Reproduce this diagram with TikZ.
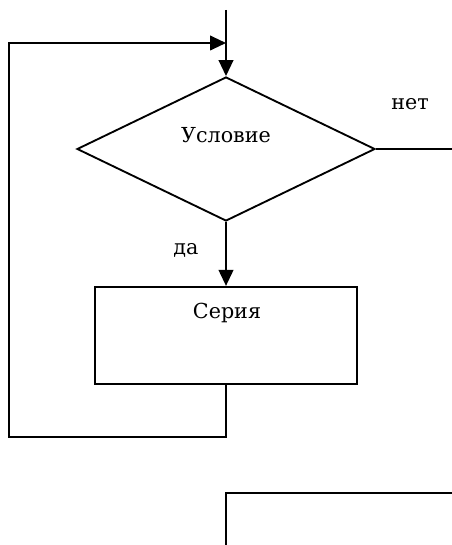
\documentclass[tikz,border=0pt]{standalone}
\usepackage{fontspec}
\setmainfont{DejaVu Serif}
\usetikzlibrary{arrows.meta,shapes.geometric}
\tikzset{
  fl/.style={draw=black, line width=1.5pt},
  arr/.style={fl, -{Triangle[length=12pt,width=11pt]}},
  cond/.style={diamond, draw=black, line width=1.4pt, inner sep=0pt,
    minimum width=223.5pt, minimum height=108pt},
  proc/.style={rectangle, draw=black, line width=1.4pt, inner sep=0pt,
    minimum width=197pt, minimum height=73pt},
  lbl/.style={font=\fontsize{15.5}{18}\selectfont, inner sep=0pt}
}
\begin{document}
\begin{tikzpicture}[x=0.75pt, y=-0.75pt]
  \useasboundingbox (0,0) rectangle (452,545);
  % loop head
  \node[cond] (test) at (226,149) {};
  \node[lbl] (testtxt) at (226,135) {Условие};
  \node[proc] (body) at (226,335.5) {};
  \node[lbl] (bodytxt) at (227,313) {Серия};
  \node[lbl] (yes) at (186,250) {да};
  \node[lbl] (no) at (410,104) {нет};
  \coordinate (in) at (226,10);
  \coordinate (join) at (226,43);
  \coordinate (back) at (9,437);
  \coordinate (exit) at (452,149);
  % next block
  \coordinate (nextR) at (452,493);
  \coordinate (nextB) at (226,545);

  \draw[arr] (in) -- (test.north);
  \draw[arr] (test.south) -- (body.north);
  \draw[fl] (test.east) -- (exit);
  \draw[arr] (body.south) |- (back) |- (join);
  \draw[fl] (nextR) -| (nextB);
\end{tikzpicture}
\end{document}
